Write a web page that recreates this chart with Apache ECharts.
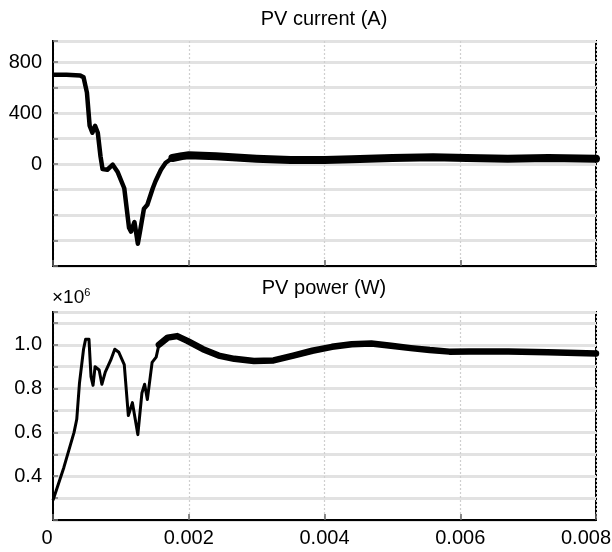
<!DOCTYPE html>
<html>
<head>
<meta charset="utf-8">
<script src="https://cdn.jsdelivr.net/npm/echarts@6/dist/echarts.min.js"></script>
<style>html,body{margin:0;padding:0;background:#fff;}#c{width:612px;height:552px;}</style>
</head>
<body>
<div id="c"></div>
<script>
// ---- data ----
const curTransT = [0, 0.0002, 0.0004, 0.00045, 0.0005, 0.00054, 0.00058, 0.00062, 0.00066, 0.0007, 0.00073, 0.0008, 0.00088, 0.00095, 0.00105, 0.00112, 0.00115, 0.0012, 0.00125, 0.00129, 0.00134, 0.00139, 0.00147, 0.00151, 0.00159, 0.00166, 0.00176];
const curTransV = [700, 700, 695, 680, 560, 300, 245, 300, 245, 60, -40, -45, -5, -60, -190, -500, -530, -455, -625, -505, -350, -320, -190, -135, -45, 10, 47];
const curSteadyT = [0.00176, 0.0019, 0.002, 0.0024, 0.003, 0.0035, 0.004, 0.0044, 0.005, 0.0056, 0.0061, 0.0067, 0.0073, 0.008];
const curSteadyV = [47, 62, 68, 60, 42, 32, 32, 37, 48, 53, 48, 42, 48, 42];

const powTransT = [0, 0.00016, 0.00031, 0.00035, 0.00039, 0.00045, 0.00048, 0.00053, 0.00056, 0.00059, 0.00062, 0.00068, 0.00072, 0.00077, 0.00085, 0.00091, 0.00097, 0.00105, 0.00111, 0.00117, 0.00125, 0.00131, 0.00135, 0.00139, 0.00146, 0.00152, 0.00156];
const powTransV = [0.29, 0.44, 0.6, 0.66, 0.825, 0.98, 1.025, 1.025, 0.855, 0.815, 0.9, 0.885, 0.82, 0.875, 0.93, 0.98, 0.966, 0.91, 0.677, 0.736, 0.59, 0.78, 0.82, 0.75, 0.92, 0.944, 1.0];
const powSteadyT = [0.00156, 0.00169, 0.00183, 0.00198, 0.00221, 0.00244, 0.00267, 0.00296, 0.00325, 0.00354, 0.00382, 0.00411, 0.0044, 0.00469, 0.00498, 0.00527, 0.00555, 0.00584, 0.00613, 0.00671, 0.00729, 0.008];
const powSteadyV = [1.0, 1.033, 1.04, 1.018, 0.98, 0.951, 0.936, 0.926, 0.929, 0.951, 0.973, 0.991, 1.003, 1.006, 0.996, 0.985, 0.976, 0.969, 0.97, 0.97, 0.966, 0.961];

const curTickLabels = [800, 400, 0];
const powTickLabels = ['1.0', '0.8', '0.6', '0.4'];
const xTickLabels = ['0', '0.002', '0.004', '0.006', '0.008'];

const titles = ['PV current (A)', 'PV power (W)'];

function pairs(t, v) { return t.map((x, i) => [x, v[i]]); }

const FONT = 'Liberation Sans, Arial, sans-serif';
const chart = echarts.init(document.getElementById('c'), null, {renderer: 'canvas'});

function yAxisCommon(min, max, interval, fmt) {
  return {
    type: 'value', min: min, max: max, interval: interval,
    axisLine: {show: true, onZero: false, lineStyle: {color: '#000', width: 2}},
    axisTick: {show: true, inside: true, length: 5, lineStyle: {color: '#777', width: 1.5}},
    axisLabel: {show: true, color: '#000', fontSize: 20, fontFamily: FONT, margin: 11, formatter: fmt},
    splitLine: {show: true, lineStyle: {color: '#e2e2e2', width: 3}}
  };
}
function xAxisCommon(gridIndex, showLabels) {
  return {
    type: 'value', gridIndex: gridIndex, min: 0, max: 0.008, interval: 0.002,
    axisLine: {show: true, onZero: false, lineStyle: {color: '#000', width: 2}},
    axisTick: {show: true, inside: true, length: 6, lineStyle: {color: '#666', width: 1.5}},
    axisLabel: {show: showLabels, color: '#000', fontSize: 20, fontFamily: FONT, margin: 8,
      formatter: function (v) {
        const i = Math.round(v / 0.002);
        const s = xTickLabels[i] || '';
        if (i === 0) return '{first|' + s + '}';
        if (i === xTickLabels.length - 1) return '{last|' + s + '}';
        return s;
      },
      rich: {
        first: {fontSize: 20, fontFamily: FONT, color: '#000', padding: [0, 12, 0, 0]},
        last: {fontSize: 20, fontFamily: FONT, color: '#000', padding: [0, 20, 0, 0]}
      }},
    splitLine: {show: true, lineStyle: {color: '#cfcfcf', width: 1.2, type: [2, 2]}}
  };
}

const option = {
  animation: false,
  backgroundColor: '#fff',
  grid: [
    {left: 53, right: 16, top: 41, height: 225, show: true, borderColor: '#000', borderWidth: 2, backgroundColor: '#fff', outerBoundsMode: 'none', containLabel: false},
    {left: 53, right: 16, top: 312, height: 208, show: true, borderColor: '#000', borderWidth: 2, backgroundColor: '#fff', outerBoundsMode: 'none', containLabel: false}
  ],
  xAxis: [xAxisCommon(0, false), xAxisCommon(1, true)],
  yAxis: [
    Object.assign(yAxisCommon(-800, 965, 200, function (v) {
      return curTickLabels.indexOf(Math.round(v)) >= 0 ? String(Math.round(v)) : '';
    }), {gridIndex: 0}),
    Object.assign(yAxisCommon(0.2, 1.15, 0.1, function (v) {
      const s = v.toFixed(1);
      return (Math.abs(v - parseFloat(s)) < 1e-6 && powTickLabels.indexOf(s) >= 0) ? s : '';
    }), {gridIndex: 1})
  ],
  graphic: [
    {type: 'text', x: 324, y: 19, style: {text: titles[0], font: '20px ' + FONT, fill: '#000', textAlign: 'center', textVerticalAlign: 'middle'}},
    {type: 'text', x: 324, y: 288, style: {text: titles[1], font: '20px ' + FONT, fill: '#000', textAlign: 'center', textVerticalAlign: 'middle'}},
    {type: 'text', x: 52, y: 298, style: {text: '{a|×10}{b|6}', textVerticalAlign: 'middle',
      rich: {a: {fontSize: 19, fontFamily: FONT, color: '#000'}, b: {fontSize: 11, fontFamily: FONT, color: '#000', verticalAlign: 'top', padding: [0, 0, 11, 0]}}}}
  ],
  series: [
    {type: 'line', xAxisIndex: 0, yAxisIndex: 0, data: pairs(curTransT, curTransV), showSymbol: false, lineStyle: {color: '#000', width: 4.5, join: 'round'}, z: 3},
    {type: 'line', xAxisIndex: 0, yAxisIndex: 0, data: pairs(curSteadyT, curSteadyV), showSymbol: false, lineStyle: {color: '#000', width: 8, cap: 'round', join: 'round'}, z: 3},
    {type: 'line', xAxisIndex: 1, yAxisIndex: 1, data: pairs(powTransT, powTransV), showSymbol: false, lineStyle: {color: '#000', width: 3, join: 'round'}, z: 3},
    {type: 'line', xAxisIndex: 1, yAxisIndex: 1, data: pairs(powSteadyT, powSteadyV), showSymbol: false, lineStyle: {color: '#000', width: 6.5, cap: 'round', join: 'round'}, z: 3}
  ]
};
chart.setOption(option);
</script>
</body>
</html>
